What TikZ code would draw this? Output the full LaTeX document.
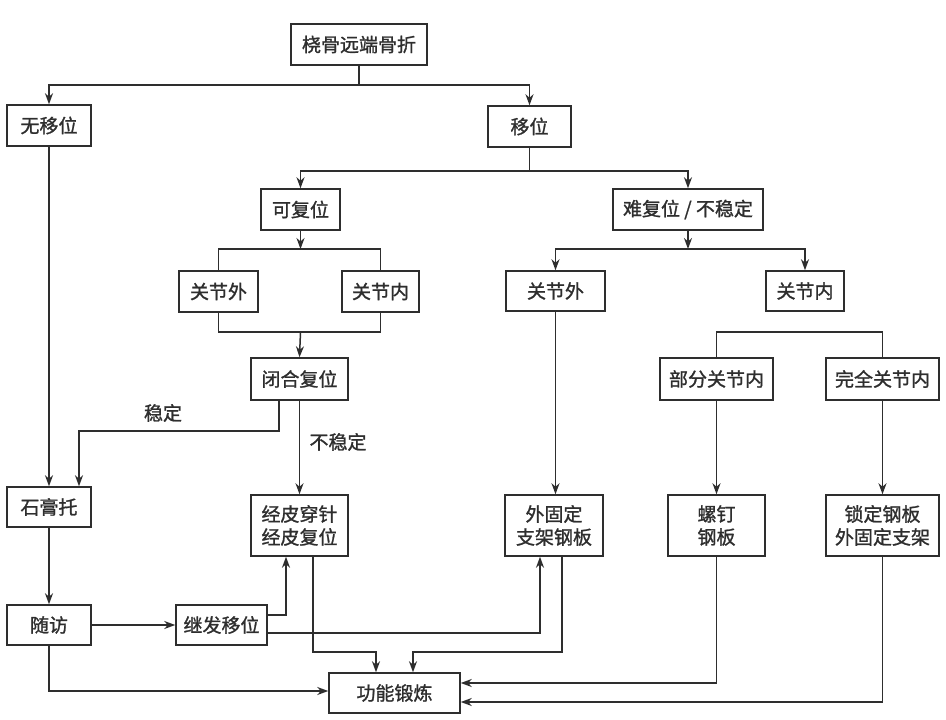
\documentclass[tikz,border=0pt]{standalone}
\usepackage{fontspec}
\newfontfamily\cjk[BoldFont={Noto Sans CJK SC}, BoldFeatures={FakeBold=1.2}]{Noto Sans CJK SC}
\usetikzlibrary{arrows.meta}
\definecolor{ink}{HTML}{2E2E2E}
\begin{document}
\begin{tikzpicture}[x=1pt,y=-1pt,
  every node/.style={font=\cjk\bfseries\fontsize{19}{23}\selectfont, text=ink},
  bx/.style={draw=ink, line width=1.5pt, inner sep=0pt, align=center},
  ln/.style={draw=ink, line width=1.5pt},
  arr/.style={ln, -{Stealth[length=11pt,width=8pt,inset=3.5pt]}},
  lbl/.style={inner sep=0pt}]
\useasboundingbox[fill=white] (0,0) rectangle (946,720);
% boxes
\node[bx, minimum width=136, minimum height=41] (top) at (359,44.5) {桡骨远端骨折};
\node[bx, minimum width=84, minimum height=41] (wu) at (49,125.5) {无移位};
\node[bx, minimum width=83, minimum height=41] (yi) at (529.5,126.5) {移位};
\node[bx, minimum width=79, minimum height=41] (ke) at (300.5,209.5) {可复位};
\node[bx, minimum width=150, minimum height=41] (nan) at (688,209.5) {难复位 / 不稳定};
\node[bx, minimum width=79, minimum height=41] (gjwa) at (218.5,291.5) {关节外};
\node[bx, minimum width=77, minimum height=41] (gjna) at (380.5,291.5) {关节内};
\node[bx, minimum width=97, minimum height=42] (bihe) at (299.5,379) {闭合复位};
\node[bx, minimum width=99, minimum height=40] (gjwb) at (555.5,291) {关节外};
\node[bx, minimum width=78, minimum height=40] (gjnb) at (805,291) {关节内};
\node[bx, minimum width=113, minimum height=42] (bufen) at (716.5,379) {部分关节内};
\node[bx, minimum width=113, minimum height=42] (wanquan) at (882.5,379) {完全关节内};
\node[bx, minimum width=84, minimum height=40] (shigao) at (49,507) {石膏托};
\node[bx, minimum width=97, minimum height=61] (jingpi) at (299.5,525.5) {经皮穿针\\经皮复位};
\node[bx, minimum width=98, minimum height=61] (waigu) at (554,525.5) {外固定\\支架钢板};
\node[bx, minimum width=97, minimum height=61] (luoding) at (716.5,525.5) {螺钉\\钢板};
\node[bx, minimum width=113, minimum height=61] (suoding) at (882.5,525.5) {锁定钢板\\外固定支架};
\node[bx, minimum width=84, minimum height=40] (suifang) at (49,625) {随访};
\node[bx, minimum width=91, minimum height=40] (jifa) at (221.5,625) {继发移位};
\node[bx, minimum width=131, minimum height=40] (gongneng) at (394.5,693) {功能锻炼};
% labels
\node[lbl] (wending) at (163,413) {稳定};
\node[lbl] (buwending) at (338,442) {不稳定};
% branch points
\coordinate (b1) at (359,85);
\coordinate (b2) at (529.5,171);
\coordinate (b3) at (300.5,249);
\coordinate (b4) at (300.5,332);
\coordinate (b5) at (688,249);
\coordinate (b6) at (799.5,332);
\coordinate (c1) at (279,431);
\coordinate (c2) at (79,431);
\coordinate (d1) at (376,652);
\coordinate (d2) at (413,652);
% connectors
\draw[ln] (top.south) -- (b1);
\draw[arr] (b1) -| (wu.north);
\draw[arr] (b1) -| (yi.north);
\draw[ln] (yi.south) -- (b2);
\draw[arr] (b2) -| (ke.north);
\draw[arr] (b2) -| (nan.north);
\draw[arr] (ke.south) -- (b3);
\draw[ln] (gjwa.north) |- (b3) -| (gjna.north);
\draw[ln] (gjwa.south) |- (b4) -| (gjna.south);
\draw[arr] (b4) -- (bihe.north);
\draw[arr] (nan.south) -- (b5);
\draw[arr] (b5) -| (gjwb.north);
\draw[arr] (b5) -| (gjnb.north);
\draw[ln] (bufen.north) |- (b6) -| (wanquan.north);
\draw[arr] (gjwb.south) -- (gjwb.south |- waigu.north);
\draw[arr] (bufen.south) -- (luoding.north);
\draw[arr] (wanquan.south) -- (suoding.north);
\draw[arr] (wu.south) -- (shigao.north);
\draw[arr] (bihe.south -| c1) -- (c1) -- (c2) -- (c2 |- shigao.north);
\draw[arr] (bihe.south) -- (jingpi.north);
\draw[arr] (shigao.south) -- (suifang.north);
\draw[arr] (suifang.east) -- (jifa.west);
\draw[arr] ([yshift=10pt]jifa.east) -| ([xshift=-13.5pt]jingpi.south);
\draw[arr] ([yshift=-8pt]jifa.east) -| ([xshift=-14pt]waigu.south);
\draw[arr] ([xshift=13.5pt]jingpi.south) |- (d1) -- (d1 |- gongneng.north);
\draw[arr] ([xshift=8pt]waigu.south) |- (d2) -- (d2 |- gongneng.north);
\draw[arr] (suifang.south) |- ([yshift=2pt]gongneng.west);
\draw[arr] (luoding.south) |- ([yshift=10pt]gongneng.east);
\draw[arr] (suoding.south) |- ([yshift=-9pt]gongneng.east);
\end{tikzpicture}
\end{document}
